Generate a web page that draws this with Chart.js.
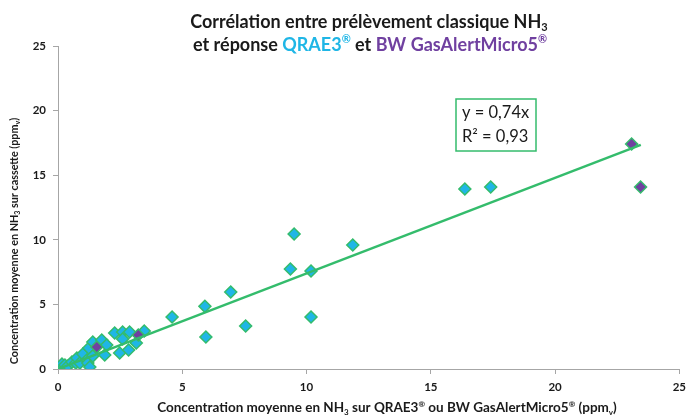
<!DOCTYPE html>
<html>
<head>
<meta charset="utf-8">
<script src="https://cdn.jsdelivr.net/npm/chart.js@4"></script>
<style>
html,body{margin:0;padding:0;background:#fff;}
#wrap{width:692px;height:416px;position:relative;}
</style>
</head>
<body>
<div id="wrap"><canvas id="c" width="692" height="416"></canvas></div>
<script>
// QRAE3 measurements (x = QRAE3/BW concentration, y = cassette concentration), ppmv
const qraeX = [0.00,0.16,0.28,0.40,0.56,0.72,0.76,0.88,1.00,1.16,1.20,1.24,1.28,1.40,1.40,1.76,1.88,1.96,2.28,2.48,2.60,2.60,2.84,2.88,3.15,3.47,4.59,5.91,5.95,6.95,7.55,9.35,9.50,10.18,10.18,11.86,16.37,17.41];
const qraeY = [0.08,0.39,0.31,0.23,0.54,0.46,0.85,0.46,1.16,0.70,0.46,1.63,0.15,2.09,1.00,2.24,1.08,1.86,2.79,1.24,2.86,2.32,1.47,2.86,2.01,2.94,4.02,4.85,2.48,5.96,3.33,7.74,10.45,7.59,4.02,9.60,13.93,14.09];
// BW GasAlertMicro5 measurements
const bwX = [1.56,3.23,23.08,23.44];
const bwY = [1.70,2.63,17.41,14.09];
// Linear trend line: y = 0,74x
const trendX = [0, 23.45];
const trendY = [0, 17.35];
const xTicks = [0,5,10,15,20,25];
const yTicks = [0,5,10,15,20,25];
const eqLines = ['y = 0,74x', 'R² = 0,93'];

const FONT = 'Lato, "Open Sans", "DejaVu Sans", sans-serif';
const CYAN = '#1FB6E6';
const PURPLE = '#7040A0';
const GREEN = '#34BC6C';
const AXIS = '#A6A6A6';

function pts(xs, ys){ return xs.map((x,i)=>({x:x, y:ys[i]})); }

function drawRich(ctx, segs, cx, cy, baseSize){
  let total = 0;
  segs.forEach(s=>{
    const sz = s.sub||s.sup ? Math.round(baseSize*0.62) : baseSize;
    ctx.font = 'bold ' + sz + 'px ' + FONT;
    s._w = ctx.measureText(s.t).width; s._sz = sz; total += s._w;
  });
  let x = cx - total/2;
  ctx.textBaseline = 'middle';
  ctx.textAlign = 'left';
  segs.forEach(s=>{
    ctx.font = 'bold ' + s._sz + 'px ' + FONT;
    ctx.fillStyle = s.c || '#1a1a1a';
    let dy = 0;
    if (s.sub) dy = baseSize*0.3;
    if (s.sup) dy = -baseSize*0.3;
    ctx.fillText(s.t, x, cy + dy);
    x += s._w;
  });
}

const textPlugin = {
  id: 'textPlugin',
  afterDraw(chart){
    const ctx = chart.ctx;
    const ca = chart.chartArea;
    ctx.save();
    // Title
    drawRich(ctx, [{t:'Corrélation entre prélèvement classique NH'},{t:'3',sub:true}], 369, 22, 18);
    drawRich(ctx, [{t:'et réponse '},{t:'QRAE3',c:CYAN},{t:'®',sup:true,c:CYAN},{t:' et '},{t:'BW GasAlertMicro5',c:PURPLE},{t:'®',sup:true,c:PURPLE}], 370, 45, 18);
    // X axis title
    drawRich(ctx, [{t:'Concentration moyenne en NH'},{t:'3',sub:true},{t:' sur QRAE3'},{t:'®',sup:true},{t:' ou BW GasAlertMicro5'},{t:'®',sup:true},{t:' (ppm'},{t:'v',sub:true},{t:')'}], 387, 408, 13.5);
    // Y axis title
    ctx.save();
    ctx.translate(15, 241);
    ctx.rotate(-Math.PI/2);
    drawRich(ctx, [{t:'Concentration moyenne en NH'},{t:'3',sub:true},{t:' sur cassette (ppm'},{t:'v',sub:true},{t:')'}], 0, 0, 10.8);
    ctx.restore();
    // Equation box
    const bx = ca.left + 398, by = ca.top + 53, bw = 80, bh = 52;
    ctx.fillStyle = '#fff';
    ctx.fillRect(bx, by, bw, bh);
    ctx.strokeStyle = GREEN; ctx.lineWidth = 1.5;
    ctx.strokeRect(bx, by, bw, bh);
    ctx.fillStyle = '#1a1a1a';
    ctx.font = '16.5px ' + FONT;
    ctx.textAlign = 'left'; ctx.textBaseline = 'middle';
    ctx.fillText(eqLines[0], bx + 6, by + 14);
    ctx.fillText(eqLines[1], bx + 6, by + 38);
    ctx.restore();
  }
};

const tickFont = {family: FONT, size: 11.5, weight: 'bold'};

new Chart(document.getElementById('c'), {
  type: 'scatter',
  data: {
    datasets: [
      {label:'Tendance', type:'line', data: pts(trendX, trendY), borderColor: GREEN, borderWidth: 2.5, pointRadius: 0, fill:false, showLine:true},
      {label:'BW GasAlertMicro5', data: pts(bwX, bwY), pointStyle:'rectRot', pointRadius: 6, backgroundColor: PURPLE, borderColor: GREEN, borderWidth: 1.5},
      {label:'QRAE3', data: pts(qraeX, qraeY), pointStyle:'rectRot', pointRadius: 6, backgroundColor: CYAN, borderColor: GREEN, borderWidth: 1.5}
    ]
  },
  options: {
    responsive: false,
    animation: false,
    layout: {padding: {top: 46, right: 8, left: 0, bottom: 0}},
    plugins: {legend: {display:false}, title:{display:false}, tooltip:{enabled:false}},
    scales: {
      x: {
        type: 'linear', min: 0, max: 25,
        afterBuildTicks(s){ s.ticks = xTicks.map(v=>({value:v})); },
        afterFit(s){ s.height = 47; },
        ticks: {font: tickFont, color:'#1a1a1a', padding: 6},
        grid: {drawOnChartArea:false, drawTicks:true, tickLength:5, color: AXIS},
        border: {color: AXIS, width: 1}
      },
      y: {
        type: 'linear', min: 0, max: 25,
        afterBuildTicks(s){ s.ticks = yTicks.map(v=>({value:v})); },
        afterFit(s){ s.width = 58; },
        ticks: {font: tickFont, color:'#1a1a1a', padding: 7},
        grid: {drawOnChartArea:false, drawTicks:true, tickLength:5, color: AXIS},
        border: {color: AXIS, width: 1}
      }
    }
  },
  plugins: [textPlugin]
});
</script>
</body>
</html>
